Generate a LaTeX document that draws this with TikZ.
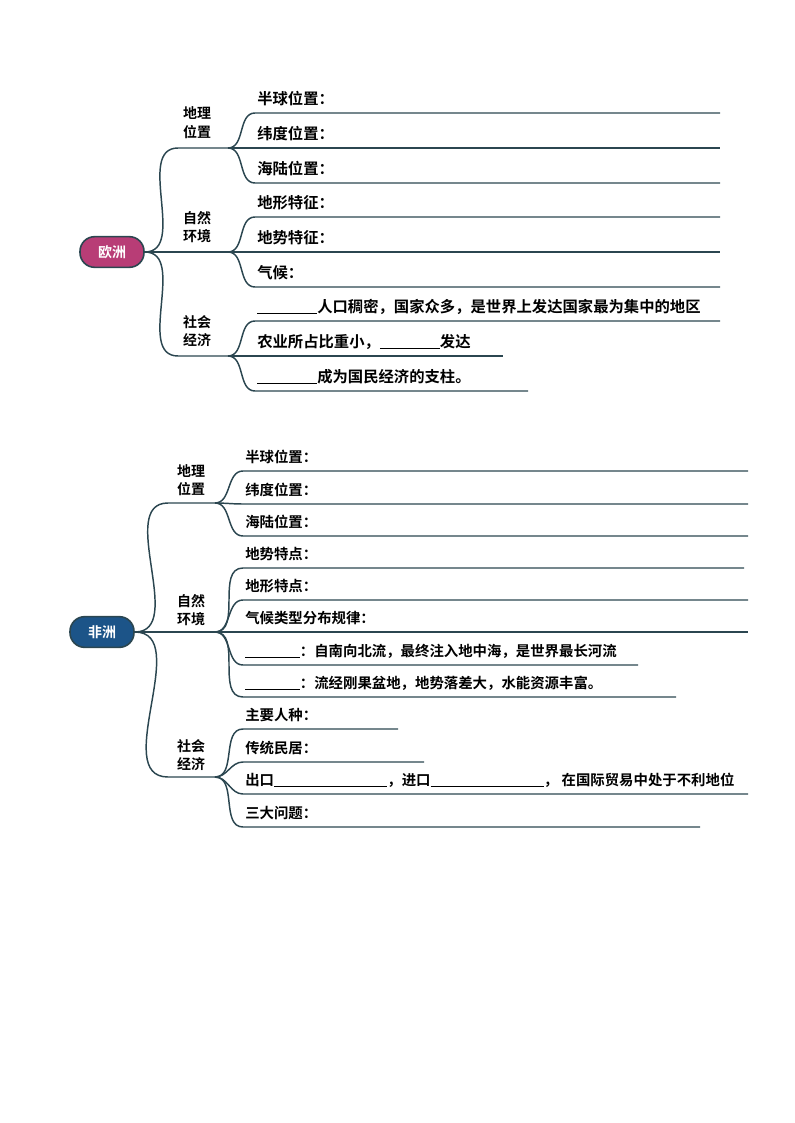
\documentclass[tikz,border=0pt]{standalone}
\usepackage{fontspec}
\setmainfont{Noto Sans CJK SC}[BoldFont={Noto Sans CJK SC Bold}]
\usetikzlibrary{positioning}
\definecolor{linecol}{HTML}{2B4650}
\definecolor{eucol}{HTML}{B83D76}
\definecolor{afcol}{HTML}{1C5488}
\tikzset{
  rootbox/.style={draw=linecol, line width=1.2pt, rounded corners=11pt, minimum width=48pt, minimum height=23pt, text=white, font=\bfseries\fontsize{10.5pt}{12pt}\selectfont},
  cattext/.style={align=center, font=\bfseries\fontsize{10.5pt}{14pt}\selectfont, inner sep=0pt},
  leaftext/.style={anchor=west, font=\bfseries\fontsize{#1}{12pt}\selectfont, inner sep=0pt},
  branch/.style={draw=linecol, line width=1.1pt},
}
\newcommand{\blank}[1]{\rule[-1pt]{#1}{0.6pt}}
\begin{document}
\begin{tikzpicture}[x=0.75pt, y=-0.75pt]
\useasboundingbox (0,0) rectangle (794,1123);

% Europe
\node[rootbox, fill=eucol] (eu) at (112,252) {欧洲};
\foreach \name/\ya/\yb/\txt in {eugeo/148/123/地理\\位置, eunat/252/227/自然\\环境, eusoc/356/331/社会\\经济} {
  \coordinate (\name-l) at (178,\ya);
  \coordinate (\name-r) at (228,\ya);
  \node[cattext] (\name-t) at (197,\yb) {\txt};
  \draw[branch] (eu.east) to[out=0,in=180] (\name-l) -- (\name-r);
}
\foreach \cat/\y/\xe/\txt in {
  eugeo/113/720/半球位置：, eugeo/148/720/纬度位置：, eugeo/183/720/海陆位置：,
  eunat/217/720/地形特征：, eunat/252/720/地势特征：, eunat/287/720/气候：,
  eusoc/321/720/{\blank{45pt}人口稠密，国家众多，是世界上发达国家最为集中的地区},
  eusoc/356/503/{农业所占比重小，\blank{45pt}发达},
  eusoc/391/528/{\blank{45pt}成为国民经济的支柱。}} {
  \coordinate (a) at (255,\y);
  \coordinate (b) at (\xe,\y);
  \draw[branch] (\cat-r) to[out=0,in=180] (a) -- (b);
  \node[leaftext=11.5pt] at (257,\y-14) {\txt};
}

% Africa
\node[rootbox, fill=afcol] (af) at (102,632) {非洲};
\foreach \name/\ya/\yb/\txt in {afgeo/503/480/地理\\位置, afnat/632/610/自然\\环境, afsoc/777/755/社会\\经济} {
  \coordinate (\name-l) at (168,\ya);
  \coordinate (\name-r) at (215,\ya);
  \node[cattext] (\name-t) at (191,\yb) {\txt};
  \draw[branch] (af.east) to[out=0,in=180] (\name-l) -- (\name-r);
}
\foreach \cat/\y/\xe/\txt in {
  afgeo/471/748/半球位置：, afgeo/504/748/纬度位置：, afgeo/536/748/海陆位置：,
  afnat/568/744/地势特点：, afnat/600/748/地形特点：, afnat/632/748/气候类型分布规律：,
  afnat/665/638/{\blank{41pt}：自南向北流，最终注入地中海，是世界最长河流},
  afnat/697/676/{\blank{41pt}：流经刚果盆地，地势落差大，水能资源丰富。},
  afsoc/729/398/主要人种：, afsoc/762/424/传统民居：,
  afsoc/794/748/{出口\blank{85pt}，进口\blank{85pt}， 在国际贸易中处于不利地位},
  afsoc/827/700/三大问题：} {
  \coordinate (a) at (243,\y);
  \coordinate (b) at (\xe,\y);
  \draw[branch] (\cat-r) to[out=0,in=180] (a) -- (b);
  \node[leaftext=10.8pt] at (245,\y-14) {\txt};
}
\end{tikzpicture}
\end{document}
